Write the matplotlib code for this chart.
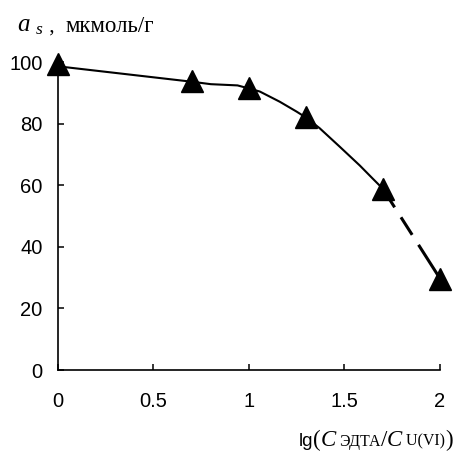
import matplotlib
matplotlib.use("Agg")
import matplotlib.pyplot as plt
from matplotlib.offsetbox import TextArea, HPacker, AnnotationBbox

plt.rcParams['mathtext.fontset'] = 'custom'
plt.rcParams['mathtext.rm'] = 'Liberation Serif'
plt.rcParams['mathtext.it'] = 'Liberation Serif:italic'
plt.rcParams['lines.scale_dashes'] = False

# data (markers)
x_pts = [0, 0.7, 1.0, 1.3, 1.7, 2.0]
y_pts = [99.2, 93.8, 91.5, 82.3, 58.9, 29.7]

# fitted curve
curve_x = [0, 0.7, 0.8, 0.94, 1.0, 1.057, 1.161, 1.249, 1.3, 1.37, 1.475, 1.58, 1.65, 1.7]
curve_y = [98.6, 93.6, 92.8, 92.4, 91.4, 90.4, 87.1, 83.9, 81.9, 78.5, 72.5, 66.4, 62.0, 58.9]
tail_x = [1.7, 2.0]
tail_y = [58.9, 29.7]

xticks = [0, 0.5, 1, 1.5, 2]
xticklabels = ['0', '0.5', '1', '1.5', '2']
yticks = [0, 20, 40, 60, 80, 100]

fig = plt.figure(figsize=(4.58, 4.59), dpi=100)
ax = fig.add_axes([58/458, 1 - 370/459, (440 - 58)/458, (370 - 62)/459])

ax.plot(curve_x, curve_y, color='black', lw=1.5, solid_capstyle='butt',
        solid_joinstyle='round', zorder=2)
ax.plot(tail_x, tail_y, color='black', lw=2.2, dash_capstyle='butt',
        linestyle=(0, (16, 8.5, 15, 8.5, 60)), zorder=2)
ax.plot(x_pts, y_pts, linestyle='none', marker='^', ms=15.5, color='black',
        clip_on=False, zorder=3)

ax.set_xlim(0, 2)
ax.set_ylim(0, 100)
ax.set_xticks(xticks)
ax.set_xticklabels(xticklabels)
ax.set_yticks(yticks)
for s in ['top', 'right']:
    ax.spines[s].set_visible(False)
for s in ['left', 'bottom']:
    ax.spines[s].set_linewidth(1.2)
ax.tick_params(direction='in', length=4, width=1.1, labelsize=14.5)
ax.tick_params(axis='y', pad=11)
ax.tick_params(axis='x', pad=16)
for lab in ax.get_xticklabels() + ax.get_yticklabels():
    lab.set_fontfamily('Liberation Sans')

# y label (top-left)
ylab = HPacker(children=[
    TextArea(r'$a\ _{s}$', textprops=dict(fontsize=18, family='Liberation Serif')),
    TextArea(' ,  ', textprops=dict(fontsize=15, family='Liberation Serif')),
    TextArea('мкмоль/г', textprops=dict(fontsize=16.5, family='Liberation Serif')),
], align='baseline', pad=0, sep=0)
ab = AnnotationBbox(ylab, (17, 459 - 26), xycoords='figure pixels',
                    box_alignment=(0, 0.5), frameon=False, pad=0)
fig.add_artist(ab)

# x label (bottom-right)
xlab = HPacker(children=[
    TextArea('lg', textprops=dict(fontsize=13.5, family='Liberation Sans')),
    TextArea('(', textprops=dict(fontsize=16.5, family='Liberation Serif')),
    TextArea('C', textprops=dict(fontsize=16.5, family='Liberation Serif', style='italic')),
    TextArea(' ЭДТА', textprops=dict(fontsize=11.5, family='Liberation Serif')),
    TextArea('/', textprops=dict(fontsize=16.5, family='Liberation Serif')),
    TextArea('C', textprops=dict(fontsize=16.5, family='Liberation Serif', style='italic')),
    TextArea(' U(VI)', textprops=dict(fontsize=11.5, family='Liberation Serif')),
    TextArea(')', textprops=dict(fontsize=16.5, family='Liberation Serif')),
], align='baseline', pad=0, sep=0)
ab2 = AnnotationBbox(xlab, (453, 459 - 440), xycoords='figure pixels',
                     box_alignment=(1, 0.5), frameon=False, pad=0)
fig.add_artist(ab2)

fig.savefig('out.png', dpi=100)
